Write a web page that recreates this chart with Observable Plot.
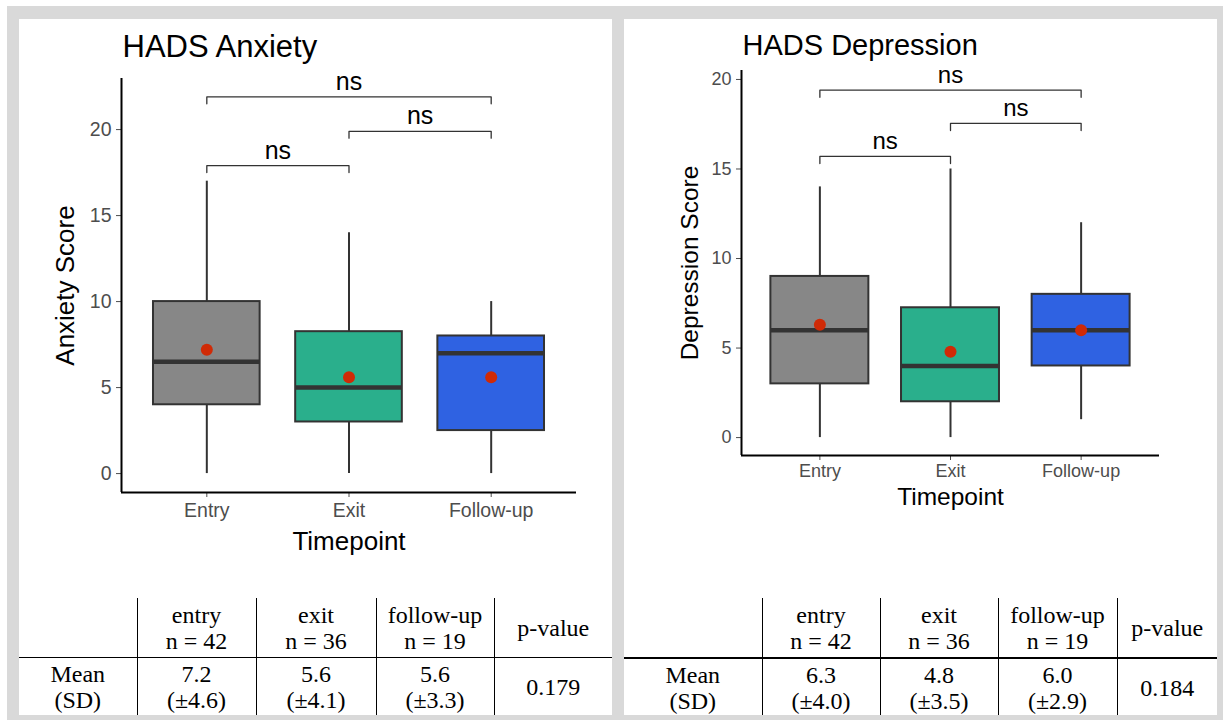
<!DOCTYPE html>
<html>
<head>
<meta charset="utf-8">
<script src="https://cdn.jsdelivr.net/npm/d3@7"></script>
<script src="https://cdn.jsdelivr.net/npm/@observablehq/plot@0.6"></script>
<style>
  html, body { margin: 0; padding: 0; background: #ffffff; }
  #sheet { position: absolute; left: 7px; top: 6px; width: 1216px; height: 714px; background: #d9d9d9; }
  .panel { position: absolute; top: 19px; width: 593px; height: 696px; background: #ffffff; overflow: hidden; }
  .panel svg { position: absolute; left: 0; top: 0; }
  table.summary { position: absolute; left: 0; top: 579px; border-collapse: collapse; table-layout: fixed;
    font-family: "Liberation Serif", "Times New Roman", serif; font-size: 24px; line-height: 26px; color: #000; }
  table.summary td { text-align: center; vertical-align: middle; padding: 0; }
  table.summary tr.head td { height: 59px; }
  table.summary tr.body td { height: 58px; }
  table.summary td + td { border-left: 1.3px solid #000; }
</style>
</head>
<body>
<div id="sheet"></div>
<div class="panel" id="left" style="left:19px"></div>
<div class="panel" id="right" style="left:624px"></div>
<script>
// Timepoints shared by both scales
const timepoints = ["Entry", "Exit", "Follow-up"];
const fills = ["#878787", "#2aaf8c", "#2f62e2"];

// HADS Anxiety box summaries
const anxLow = [0, 0, 0];
const anxQ1 = [4, 3, 2.5];
const anxMedian = [6.5, 5, 7];
const anxQ3 = [10, 8.25, 8];
const anxHigh = [17, 14, 10];
const anxMean = [7.2, 5.6, 5.6];
const anxSD = [4.6, 4.1, 3.3];
const anxP = "0.179";
// pairwise comparison brackets: [from, to, height]
const anxBrackets = [[1, 3, 21.9], [2, 3, 19.9], [1, 2, 17.9]];

// HADS Depression box summaries
const depLow = [0, 0, 1];
const depQ1 = [3, 2, 4];
const depMedian = [6, 4, 6];
const depQ3 = [9, 7.25, 8];
const depHigh = [14, 15, 12];
const depMean = [6.3, 4.8, 6.0];
const depSD = [4.0, 3.5, 2.9];
const depP = "0.184";
const depBrackets = [[1, 3, 19.4], [2, 3, 17.55], [1, 2, 15.7]];

// group sizes and table column headings
const groupN = [42, 36, 19];
const tableGroups = ["entry", "exit", "follow-up"];
const yTicks = [0, 5, 10, 15, 20];

function boxChart(o) {
  const rows = timepoints.map((t, k) => ({
    t, i: k + 1, lo: o.low[k], q1: o.q1[k], med: o.median[k], q3: o.q3[k], hi: o.high[k], mean: o.mean[k]
  }));
  const half = 0.375;
  const bracketPts = o.brackets.flatMap(([a, b, y], id) => [
    {id, x: a, y: y - o.tip}, {id, x: a, y}, {id, x: b, y}, {id, x: b, y: y - o.tip}
  ]);
  const labels = o.brackets.map(([a, b, y]) => ({x: (a + b) / 2, y, text: "ns"}));
  const xDomain = [0.4, 3.6];
  return Plot.plot({
    width: o.width, height: o.height,
    marginLeft: o.ml, marginRight: o.mr, marginTop: o.mt, marginBottom: o.mb,
    style: {fontFamily: "'Liberation Sans', Arial, sans-serif", background: "transparent", overflow: "visible"},
    x: {domain: xDomain, axis: null},
    y: {domain: o.yDomain, axis: null},
    color: {domain: timepoints, range: fills},
    marks: [
      Plot.ruleX(rows, {x: "i", y1: "lo", y2: "q1", stroke: "#333333", strokeWidth: 2}),
      Plot.ruleX(rows, {x: "i", y1: "q3", y2: "hi", stroke: "#333333", strokeWidth: 2}),
      Plot.rect(rows, {x1: d => d.i - half, x2: d => d.i + half, y1: "q1", y2: "q3", fill: "t", stroke: "#333333", strokeWidth: 2}),
      Plot.ruleY(rows, {y: "med", x1: d => d.i - half, x2: d => d.i + half, stroke: "#333333", strokeWidth: 4.5}),
      Plot.dot(rows, {x: "i", y: "mean", r: 6, fill: "#d02a06", stroke: null}),
      Plot.line(bracketPts, {x: "x", y: "y", z: "id", stroke: "#333333", strokeWidth: 1.3, curve: "linear"}),
      Plot.text(labels, {x: "x", y: "y", text: "text", fontSize: o.nsSize, fill: "#000", dy: -15}),
      Plot.axisX({ticks: [1, 2, 3], tickFormat: i => timepoints[i - 1], tickSize: 5, tickPadding: o.xPad,
        fontSize: o.tickSize, color: "#4d4d4d", label: null}),
      Plot.axisY({ticks: yTicks, tickSize: 5, tickPadding: 5, fontSize: o.tickSize, color: "#4d4d4d", label: null}),
      Plot.ruleX([xDomain[0]], {stroke: "#000", strokeWidth: 2}),
      Plot.ruleY([o.yDomain[0]], {stroke: "#000", strokeWidth: 2}),
      Plot.text([o.title], {frameAnchor: "top-left", textAnchor: "start", lineAnchor: "middle",
        dx: 1, dy: o.titleDy, fontSize: o.titleSize, fill: "#000"}),
      Plot.text([o.yLabel], {frameAnchor: "left", textAnchor: "middle", rotate: -90, lineAnchor: "middle",
        dx: o.yLabelDx, fontSize: o.labelSize, fill: "#000"}),
      Plot.text(["Timepoint"], {frameAnchor: "bottom", textAnchor: "middle", lineAnchor: "middle",
        dy: o.xLabelDy, fontSize: o.labelSize, fill: "#000"})
    ]
  });
}

function summaryTable(widths, means, sds, p, ruleWidth) {
  const t = document.createElement("table");
  t.className = "summary";
  const cg = document.createElement("colgroup");
  widths.forEach(w => { const c = document.createElement("col"); c.style.width = w + "px"; cg.appendChild(c); });
  t.appendChild(cg);
  const head = document.createElement("tr");
  head.className = "head";
  head.innerHTML = "<td></td>" +
    tableGroups.map((g, k) => `<td>${g}<br>n = ${groupN[k]}</td>`).join("") + "<td>p-value</td>";
  const body = document.createElement("tr");
  body.className = "body";
  body.innerHTML = "<td>Mean<br>(SD)</td>" +
    means.map((m, k) => `<td>${m.toFixed(1)}<br>(±${sds[k].toFixed(1)})</td>`).join("") + `<td>${p}</td>`;
  body.querySelectorAll("td").forEach(td => { td.style.borderTop = ruleWidth + "px solid #000"; });
  t.style.width = widths.reduce((a, b) => a + b, 0) + "px";
  t.appendChild(head);
  t.appendChild(body);
  return t;
}

const left = document.getElementById("left");
left.appendChild(boxChart({
  low: anxLow, q1: anxQ1, median: anxMedian, q3: anxQ3, high: anxHigh, mean: anxMean, brackets: anxBrackets,
  tip: 0.4, width: 593, height: 545, ml: 102, mr: 36, mt: 59, mb: 72, yDomain: [-1.1, 22.97],
  title: "HADS Anxiety", yLabel: "Anxiety Score", titleDy: -31, yLabelDx: -56, xLabelDy: 49,
  titleSize: 31, labelSize: 26, tickSize: 19.5, nsSize: 25, xPad: 6
}));
left.appendChild(summaryTable([118, 119, 120, 118, 118], anxMean, anxSD, anxP, 1.3));

const right = document.getElementById("right");
right.appendChild(boxChart({
  low: depLow, q1: depQ1, median: depMedian, q3: depQ3, high: depHigh, mean: depMean, brackets: depBrackets,
  tip: 0.4, width: 593, height: 500, ml: 117, mr: 58, mt: 51, mb: 64, yDomain: [-1.0, 20.5],
  title: "HADS Depression", yLabel: "Depression Score", titleDy: -25, yLabelDx: -51, xLabelDy: 42,
  titleSize: 29, labelSize: 24.5, tickSize: 18, nsSize: 24, xPad: 4
}));
right.appendChild(summaryTable([138, 118, 118, 119, 100], depMean, depSD, depP, 2));
</script>
</body>
</html>
